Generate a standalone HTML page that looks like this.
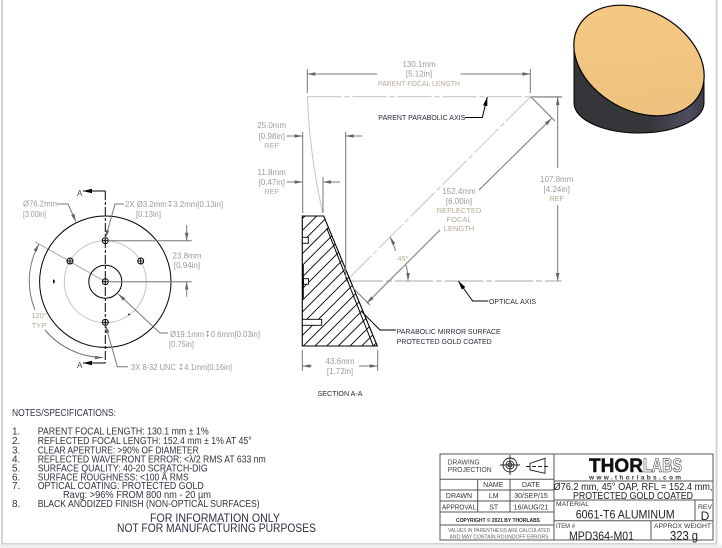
<!DOCTYPE html>
<html><head><meta charset="utf-8"><style>
html,body{margin:0;padding:0;background:#fff;width:722px;height:548px;overflow:hidden}
svg{display:block;font-family:"Liberation Sans","DejaVu Sans",sans-serif;filter:blur(.35px)}
.d{fill:#9a9a9a;font-size:8px}
.dc{fill:#9a9a9a;font-size:8px;text-anchor:middle}
.y{fill:#b5ab94;font-size:7.5px;text-anchor:middle}
.k{fill:#2a2a3a;font-size:7.5px}
.n{fill:#33333f;font-size:10px}
.t{fill:#333;font-size:7px;text-anchor:middle}
.g{fill:none;stroke:#777;stroke-width:1}
.b{fill:none;stroke:#000;stroke-width:1}
.l{fill:none;stroke:#c4c4c4;stroke-width:1}
</style></head><body>
<svg width="722" height="548" viewBox="0 0 722 548" xmlns="http://www.w3.org/2000/svg">
<defs>
<marker id="ag" markerWidth="9" markerHeight="6" refX="8" refY="3" orient="auto-start-reverse" markerUnits="userSpaceOnUse"><path d="M0 1.2L8 3L0 4.8z" fill="#666"/></marker>
<marker id="ab" markerWidth="10" markerHeight="6" refX="9" refY="3" orient="auto-start-reverse" markerUnits="userSpaceOnUse"><path d="M0 .8L9 3L0 5.2z" fill="#000"/></marker>
<linearGradient id="body" x1="0" x2="1" y1="0" y2="0"><stop offset="0" stop-color="#36363a"/><stop offset=".6" stop-color="#37373b"/><stop offset=".88" stop-color="#4d4d60"/><stop offset="1" stop-color="#3c3c44"/></linearGradient>
<linearGradient id="gold" x1="0" x2="1" y1="0" y2="1"><stop offset="0" stop-color="#f7ca84"/><stop offset="1" stop-color="#ecc07c"/></linearGradient>
<clipPath id="sec"><path d="M302.3 216H323.7L377.3 346H302.3z"/></clipPath>
<g id="hole"><circle r="3" fill="none" stroke="#000" stroke-width="1"/><path d="M-3 0H3M0-3V3" stroke="#000" stroke-width=".8"/></g>
</defs>

<!-- page frame -->
<rect x="2" y="-2" width="714.5" height="546" fill="none" stroke="#d4d4d4" stroke-width="2"/>
<rect x="0" y="544.5" width="722" height="3.5" fill="#eee"/>

<!-- 3D mirror -->
<path d="M574 40V103C574 120 604 133 639 133C674 133 704 120 704 103V75L640 60z" fill="url(#body)" stroke="#000" stroke-width="1"/>
<ellipse cx="639" cy="60.5" rx="69.4" ry="49.9" transform="rotate(29.6 639 60.5)" fill="url(#gold)" stroke="#000" stroke-width="1.2"/>

<!-- Front view -->
<circle cx="105.3" cy="281.7" r="41" class="l"/>
<line x1="105.3" y1="281.7" x2="35" y2="241.7" stroke="#aaa" stroke-width="1"/>
<circle cx="105.3" cy="281.7" r="65.7" class="b"/>
<circle cx="105.3" cy="281.7" r="16.5" class="b"/>
<use href="#hole" x="105.3" y="281.7"/>
<use href="#hole" x="105.3" y="240.7"/>
<use href="#hole" x="105.3" y="322.3"/>
<use href="#hole" x="70" y="261"/>
<use href="#hole" x="140.7" y="261"/>
<path d="M105.3 191V363" fill="none" stroke="#000" stroke-width="1" stroke-dasharray="9 2 3 2"/>
<path d="M105.3 191H83" class="b" marker-end="url(#ab)"/>
<path d="M105.3 363H83" class="b" marker-end="url(#ab)"/>
<text x="77" y="196" font-size="8" fill="#444">A</text>
<text x="77" y="368" font-size="8" fill="#444">A</text>
<path d="M53 279l2 2-1 3-1-2z" fill="#000"/><circle cx="129" cy="314.5" r=".9" fill="#000"/>
<path d="M57 204H68L76 221.7" class="g" marker-end="url(#ag)"/>
<path d="M124 204H115L105.5 238" class="g" marker-end="url(#ag)"/>
<path d="M108 240.7H191.7M108 281.7H191.7" class="g"/>
<path d="M186.7 225V240.7" class="g" marker-end="url(#ag)"/>
<path d="M186.7 296.7V281.7" class="g" marker-end="url(#ag)"/>
<path d="M168 333H160L118.3 294" class="g" marker-end="url(#ag)"/>
<path d="M128 366.7H117.3L105.5 325" class="g" marker-end="url(#ag)"/>
<path d="M35 310A76 76 0 0 1 39 244" class="g" marker-end="url(#ag)"/>
<path d="M45 330A77 77 0 0 0 103 357.6" class="g" marker-end="url(#ag)"/>
<text x="23" y="206.5" class="d" textLength="34" lengthAdjust="spacingAndGlyphs">Ø76.2mm</text>
<text x="23" y="217" class="d" textLength="23" lengthAdjust="spacingAndGlyphs">[3.00in]</text>
<text x="125" y="207" class="d" textLength="98" lengthAdjust="spacingAndGlyphs">2X  Ø3.2mm↧3.2mm[0.13in]</text>
<text x="136" y="217" class="d" textLength="25" lengthAdjust="spacingAndGlyphs">[0.13in]</text>
<text x="187" y="258.5" class="dc">23.8mm</text>
<text x="187" y="268" class="dc">[0.94in]</text>
<text x="170" y="337" class="d" textLength="90" lengthAdjust="spacingAndGlyphs">Ø19.1mm↧0.6mm[0.03in]</text>
<text x="169" y="347" class="d" textLength="25" lengthAdjust="spacingAndGlyphs">[0.75in]</text>
<text x="131" y="370" class="d" textLength="101" lengthAdjust="spacingAndGlyphs">3X 8-32 UNC ↧4.1mm[0.16in]</text>
<text x="39" y="318" class="y">120°</text>
<text x="39" y="328" class="y">TYP</text>

<!-- Section view -->
<path d="M307.5 96.7H562.7" fill="none" stroke="#c8c8c8" stroke-width="1.2" stroke-dasharray="34 3 5 3"/>
<path d="M307.5 96.7Q309 150 322.7 213" class="l"/>
<path d="M530.3 97L345 282" fill="none" stroke="#c8c8c8" stroke-width="1" stroke-dasharray="34 3 5 3"/>
<path d="M345 281H562" fill="none" stroke="#aaa" stroke-width="1" stroke-dasharray="38 3 6 3"/>
<g clip-path="url(#sec)" stroke="#000" stroke-width=".9">
<path d="M290 231L440 81M290 242.7L440 92.7M290 254.3L440 104.3M290 266L440 116M290 277.7L440 127.7M290 289.3L440 139.3M290 301L440 151M290 312.7L440 162.7M290 324.3L440 174.3M290 336L440 186M290 347.7L440 197.7M290 359.3L440 209.3M290 371L440 221M290 382.7L440 232.7M290 394.3L440 244.3M290 406L440 256M290 417.7L440 267.7M290 429.3L440 279.3" fill="none"/>
</g>
<path d="M302.3 216H323.7L377.3 346H302.3z" fill="none" stroke="#000" stroke-width="1.1"/>
<path d="M326.7 228L373.3 346" fill="none" stroke="#000" stroke-width="1"/>
<path d="M303 265V298.5" stroke="#000" stroke-width="1.6" fill="none"/>
<rect x="302.3" y="237.3" width="6" height="6" fill="#fff" stroke="#000" stroke-width=".9"/>
<rect x="303.5" y="278.7" width="5" height="5.5" fill="#fff" stroke="#000" stroke-width=".9"/>
<rect x="302.3" y="319.3" width="19.4" height="6" fill="#fff" stroke="#000" stroke-width=".9"/>
<!-- top dim -->
<path d="M307.3 69V93M530.3 69V93" class="g"/>
<path d="M377.3 74H307.3" class="g" marker-end="url(#ag)"/>
<path d="M460.7 74H530.3" class="g" marker-end="url(#ag)"/>
<text x="419" y="67" class="dc">130.1mm</text>
<text x="419" y="76.5" class="dc">[5.12in]</text>
<text x="419" y="86" class="y" textLength="82" lengthAdjust="spacingAndGlyphs">PARENT FOCAL LENGTH</text>
<!-- parent axis leader -->
<text x="378.3" y="120" class="k" textLength="87" lengthAdjust="spacingAndGlyphs">PARENT PARABOLIC AXIS</text>
<path d="M465 117.5H482.3L487.3 97" class="b" marker-end="url(#ab)"/>
<!-- 25.0 -->
<path d="M302.7 131.7V213M345.7 131.7V279M323 177V213" class="g"/>
<path d="M286.7 136H302.7" class="g" marker-end="url(#ag)"/>
<path d="M362.3 136H345.7" class="g" marker-end="url(#ag)"/>
<text x="271.7" y="128" class="dc">25.0mm</text>
<text x="271.7" y="139" class="dc">[0.98in]</text>
<text x="271.7" y="148" class="y">REF</text>
<path d="M286.7 182H302.7" class="g" marker-end="url(#ag)"/>
<path d="M340 182H323" class="g" marker-end="url(#ag)"/>
<text x="271.7" y="175" class="dc">11.8mm</text>
<text x="271.7" y="185" class="dc">[0.47in]</text>
<text x="271.7" y="194" class="y">REF</text>
<!-- 107.8 -->
<path d="M530 97H562" class="g"/>
<path d="M557.7 168V97" class="g" marker-end="url(#ag)"/>
<path d="M557.7 205V281" class="g" marker-end="url(#ag)"/>
<text x="556.7" y="182" class="dc">107.8mm</text>
<text x="556.7" y="192" class="dc">[4.24in]</text>
<text x="556.7" y="201" class="y">REF</text>
<!-- 152.4 -->
<path d="M531 97L555 121M353 288L370 305" class="g"/>
<path d="M479 190L551.7 118.3" class="g" marker-end="url(#ag)"/>
<path d="M440 230L366.7 303.3" class="g" marker-end="url(#ag)"/>
<text x="459" y="194" class="dc">152.4mm</text>
<text x="459" y="204" class="dc">[6.00in]</text>
<text x="459" y="213" class="y">REFLECTED</text>
<text x="459" y="222" class="y">FOCAL</text>
<text x="459" y="231" class="y">LENGTH</text>
<!-- 45 -->
<path d="M395.5 251A62 62 0 0 0 390 237" class="g" marker-end="url(#ag)"/>
<path d="M406 265A62 62 0 0 1 408 281" class="g" marker-end="url(#ag)"/>
<text x="403" y="261" class="y">45°</text>
<!-- axis leaders -->
<path d="M488.3 301H472.7L458.3 281" class="b" marker-end="url(#ab)"/>
<text x="489" y="304" class="k" textLength="47" lengthAdjust="spacingAndGlyphs">OPTICAL AXIS</text>
<path d="M396 330H380L361.7 311.7" class="b"/>
<text x="396.7" y="334" class="k" textLength="104" lengthAdjust="spacingAndGlyphs">PARABOLIC MIRROR SURFACE</text>
<text x="396.7" y="344" class="k" textLength="95" lengthAdjust="spacingAndGlyphs">PROTECTED GOLD COATED</text>
<!-- 43.6 -->
<path d="M302.3 350V371M377.7 350V371" class="g"/>
<path d="M312 366H302.3" class="g" marker-end="url(#ag)"/>
<path d="M359 366H377.7" class="g" marker-end="url(#ag)"/>
<text x="340" y="364" class="dc">43.6mm</text>
<text x="340" y="374" class="dc">[1.72in]</text>
<text x="340" y="396" class="k" text-anchor="middle" textLength="45" lengthAdjust="spacingAndGlyphs">SECTION A-A</text>

<!-- Notes -->
<text x="12" y="416" class="n" textLength="104" lengthAdjust="spacingAndGlyphs">NOTES/SPECIFICATIONS:</text>
<text x="12" y="434.5" class="n">1.</text><text x="37.7" y="434.5" class="n" textLength="171" lengthAdjust="spacingAndGlyphs">PARENT FOCAL LENGTH: 130.1 mm ± 1%</text>
<text x="12" y="444" class="n">2.</text><text x="37.7" y="444" class="n" textLength="214" lengthAdjust="spacingAndGlyphs">REFLECTED FOCAL LENGTH: 152.4 mm ± 1% AT 45°</text>
<text x="12" y="453.5" class="n">3.</text><text x="37.7" y="453.5" class="n" textLength="161" lengthAdjust="spacingAndGlyphs">CLEAR APERTURE: &gt;90% OF DIAMETER</text>
<text x="12" y="462.5" class="n">4.</text><text x="37.7" y="462.5" class="n" textLength="228" lengthAdjust="spacingAndGlyphs">REFLECTED WAVEFRONT ERROR: &lt;λ/2 RMS AT 633 nm</text>
<text x="12" y="471.5" class="n">5.</text><text x="37.7" y="471.5" class="n" textLength="170" lengthAdjust="spacingAndGlyphs">SURFACE QUALITY: 40-20 SCRATCH-DIG</text>
<text x="12" y="480.5" class="n">6.</text><text x="37.7" y="480.5" class="n" textLength="151" lengthAdjust="spacingAndGlyphs">SURFACE ROUGHNESS: &lt;100 Å RMS</text>
<text x="12" y="489" class="n">7.</text><text x="37.7" y="489" class="n" textLength="166" lengthAdjust="spacingAndGlyphs">OPTICAL COATING: PROTECTED GOLD</text>
<text x="63" y="498" class="n" textLength="148" lengthAdjust="spacingAndGlyphs">Ravg: &gt;96% FROM 800 nm - 20 µm</text>
<text x="12" y="507" class="n">8.</text><text x="37.7" y="507" class="n" textLength="222" lengthAdjust="spacingAndGlyphs">BLACK ANODIZED FINISH (NON-OPTICAL SURFACES)</text>
<text x="150" y="522" fill="#2f2f3f" font-size="12" textLength="130" lengthAdjust="spacingAndGlyphs">FOR INFORMATION ONLY</text>
<text x="117" y="532" fill="#2f2f3f" font-size="12" textLength="199" lengthAdjust="spacingAndGlyphs">NOT FOR MANUFACTURING PURPOSES</text>

<!-- Title block -->
<g fill="none" stroke="#555" stroke-width="1">
<rect x="440" y="454" width="273" height="86"/>
<path d="M554 454V540M440 479.3H554M440 490H554M440 501H554M440 512H554M440 525H554M477.7 479.3V512M510 479.3V512M554 481H713M554 500H713M554 520.7H713M651 520.7V540M695 500V520.7"/>
</g>
<text x="447.7" y="464.5" fill="#444" font-size="7.5" textLength="32" lengthAdjust="spacingAndGlyphs">DRAWING</text>
<text x="447.7" y="472" fill="#444" font-size="7.5" textLength="44" lengthAdjust="spacingAndGlyphs">PROJECTION</text>
<g fill="none" stroke="#222" stroke-width=".9">
<circle cx="510" cy="465" r="2"/><circle cx="510" cy="465" r="4"/><circle cx="510" cy="465" r="7"/><path d="M500 465H520M510 455V475"/>
<path d="M530 463.3L545 458.3V473.3L530 470z"/><path d="M526 466.5H549" stroke-dasharray="4 2"/>
</g>
<text x="493.3" y="487" class="t">NAME</text><text x="531" y="487" class="t">DATE</text>
<text x="459" y="498" class="t">DRAWN</text><text x="493.7" y="498" class="t">LM</text><text x="531" y="498" class="t">30/SEP/15</text>
<text x="459" y="509.5" class="t" textLength="34" lengthAdjust="spacingAndGlyphs">APPROVAL</text><text x="493.7" y="509.5" class="t">ST</text><text x="531" y="509.5" class="t">16/AUG/21</text>
<text x="498" y="522" text-anchor="middle" fill="#222" font-size="5.5" font-weight="bold" textLength="84" lengthAdjust="spacingAndGlyphs">COPYRIGHT © 2021 BY THORLABS</text>
<text x="499" y="532" text-anchor="middle" fill="#666" font-size="5.5" textLength="102" lengthAdjust="spacingAndGlyphs">VALUES IN PARENTHESIS ARE CALCULATED</text>
<text x="499" y="538.5" text-anchor="middle" fill="#666" font-size="5.5" textLength="99" lengthAdjust="spacingAndGlyphs">AND MAY CONTAIN ROUNDOFF ERRORS</text>
<text x="589" y="472" font-size="19.5" font-weight="bold" fill="#111" stroke="#111" stroke-width=".5" textLength="54" lengthAdjust="spacingAndGlyphs">THOR</text>
<text x="643" y="472" font-size="19.5" font-weight="bold" fill="#fff" stroke="#222" stroke-width=".6" textLength="39" lengthAdjust="spacingAndGlyphs">LABS</text>
<text x="589" y="479.5" font-size="6.5" font-weight="bold" fill="#333" textLength="92">www.thorlabs.com</text>
<text x="553.5" y="490" font-size="10.5" fill="#222" textLength="159" lengthAdjust="spacingAndGlyphs">Ø76.2 mm, 45° OAP, RFL = 152.4 mm,</text>
<text x="573" y="499" font-size="10" fill="#222" textLength="120" lengthAdjust="spacingAndGlyphs">PROTECTED GOLD COATED</text>
<text x="556" y="506" font-size="6.5" fill="#333" textLength="33" lengthAdjust="spacingAndGlyphs">MATERIAL</text>
<text x="575.7" y="518.5" font-size="12" fill="#222" textLength="99" lengthAdjust="spacingAndGlyphs">6061-T6 ALUMINUM</text>
<text x="698" y="509" font-size="6.5" fill="#333" textLength="14" lengthAdjust="spacingAndGlyphs">REV</text>
<text x="705" y="520" font-size="12" fill="#222" text-anchor="middle">D</text>
<text x="556" y="528" font-size="6.5" fill="#333" textLength="19" lengthAdjust="spacingAndGlyphs">ITEM #</text>
<text x="569" y="540" font-size="12" fill="#222" textLength="65" lengthAdjust="spacingAndGlyphs">MPD364-M01</text>
<text x="654" y="528" font-size="6.5" fill="#333" textLength="57" lengthAdjust="spacingAndGlyphs">APPROX WEIGHT</text>
<text x="670" y="540" font-size="12.5" fill="#222" textLength="28" lengthAdjust="spacingAndGlyphs">323 g</text>
</svg>
</body></html>
